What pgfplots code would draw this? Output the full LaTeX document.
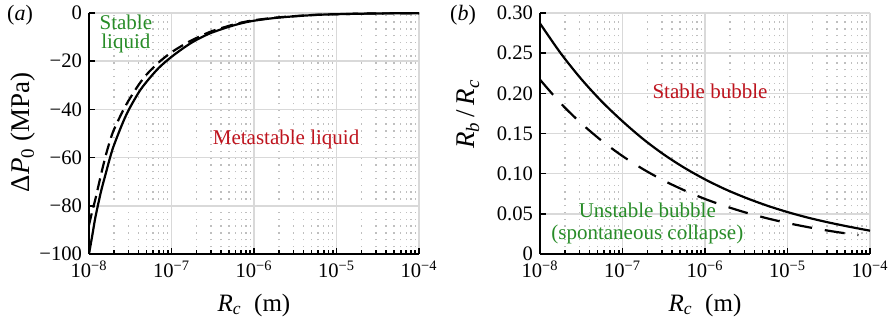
\documentclass[border=0pt]{standalone}
\usepackage{fontspec}
\setmainfont{Liberation Serif}
\usepackage{pgfplots}
\pgfplotsset{compat=1.18}
\definecolor{mygreen}{RGB}{40,140,40}
\definecolor{myred}{RGB}{190,20,30}
\begin{document}
\begin{tikzpicture}
\useasboundingbox (0,0) rectangle (446pt,162pt);
% panel (a)
\begin{axis}[
  scale only axis, width=165pt, height=120.5pt,
  at={(44.5pt,35pt)}, anchor=south west,
  xmode=log, xmin=1e-8, xmax=1e-4,
  axis x line*=bottom, axis y line*=left,
  axis line style={line width=1pt, black},
  xtick={1e-8,1e-7,1e-6,1e-5,1e-4},
  xticklabels={10\textsuperscript{−8},10\textsuperscript{−7},10\textsuperscript{−6},10\textsuperscript{−5},10\textsuperscript{−4}},
  grid=both,
  major grid style={gray!30, line width=0.8pt},
  minor grid style={gray!50, line width=0.7pt, dash pattern=on 0.7pt off 2.7pt},
  tick align=inside,
  major tick length=3pt, minor tick length=2pt,
  tick style={black, line width=0.8pt},
  tick label style={font=\fontsize{10.3}{12}\selectfont},
  xlabel={\textit{R\textsubscript{c}}\ \ (m)},
  xlabel style={font=\fontsize{12.5}{14}\selectfont, at={(axis description cs:0.5,0)}, anchor=center, yshift=-25.5pt},
  ymin=-100, ymax=0, ytick={-100,-80,-60,-40,-20,0},
  yticklabels={−100,−80,−60,−40,−20,0},
  ylabel={Δ\textit{P}\textsubscript{0} (MPa)},
  ylabel style={font=\fontsize{13.5}{15}\selectfont, at={(axis description cs:-0.2,0.506)}, anchor=center}]
\addplot[black, line width=1.1pt, smooth, tension=0.5] coordinates {
(1e-8,-100) (1.1e-8,-92) (1.2e-8,-84.5) (1.4e-8,-74) (1.6e-8,-66.5) (1.8e-8,-60)
(2e-8,-55) (2.5e-8,-46.5) (3e-8,-40.5) (4e-8,-33) (5e-8,-28.5) (7e-8,-22.8)
(1e-7,-18.2) (1.5e-7,-13.8) (2e-7,-11.2) (3e-7,-8.3) (5e-7,-5.7) (7e-7,-4.3)
(1e-6,-3.2) (2e-6,-1.9) (5e-6,-0.9) (1e-5,-0.5) (3e-5,-0.2) (1e-4,-0.08)};
\addplot[black, line width=1.1pt, smooth, tension=0.5, dash pattern=on 6pt off 3pt] coordinates {
(1e-8,-88) (1.1e-8,-82) (1.2e-8,-77) (1.4e-8,-67) (1.6e-8,-59) (1.8e-8,-53)
(2e-8,-48.5) (2.5e-8,-41.5) (3e-8,-36.5) (4e-8,-29.8) (5e-8,-25.5) (7e-8,-20.5)
(1e-7,-16.3) (1.5e-7,-12.6) (2e-7,-10.4) (3e-7,-7.7) (5e-7,-5.3) (7e-7,-4.0)
(1e-6,-3.0) (2e-6,-1.8) (5e-6,-0.85) (1e-5,-0.5) (3e-5,-0.2) (1e-4,-0.08)};
\node[mygreen, align=center, font=\fontsize{10.5}{9.5}\selectfont] at (axis cs:2.8e-8,-8.75) {Stable\\liquid};
\node[myred, font=\fontsize{10.5}{12}\selectfont] at (axis cs:2.45e-6,-52.5) {Metastable liquid};
\end{axis}
% panel (b)
\begin{axis}[
  scale only axis, width=165pt, height=120.5pt,
  at={(270pt,35pt)}, anchor=south west,
  xmode=log, xmin=1e-8, xmax=1e-4,
  axis x line*=bottom, axis y line*=left,
  axis line style={line width=1pt, black},
  xtick={1e-8,1e-7,1e-6,1e-5,1e-4},
  xticklabels={10\textsuperscript{−8},10\textsuperscript{−7},10\textsuperscript{−6},10\textsuperscript{−5},10\textsuperscript{−4}},
  grid=both,
  major grid style={gray!30, line width=0.8pt},
  minor grid style={gray!50, line width=0.7pt, dash pattern=on 0.7pt off 2.7pt},
  tick align=inside,
  major tick length=3pt, minor tick length=2pt,
  tick style={black, line width=0.8pt},
  tick label style={font=\fontsize{10.3}{12}\selectfont},
  xlabel={\textit{R\textsubscript{c}}\ \ (m)},
  xlabel style={font=\fontsize{12.5}{14}\selectfont, at={(axis description cs:0.5,0)}, anchor=center, yshift=-25.5pt},
  ymin=0, ymax=0.3, ytick={0,0.05,0.1,0.15,0.2,0.25,0.3},
  yticklabels={0,0.05,0.10,0.15,0.20,0.25,0.30},
  ylabel={\textit{R\textsubscript{b}}\,/\,\textit{R\textsubscript{c}}},
  ylabel style={font=\fontsize{13.5}{15}\selectfont, at={(axis description cs:-0.218,0.58)}, anchor=center}]
\addplot[black, line width=1.1pt, smooth, tension=0.5] coordinates {
(1e-8,0.287) (1.778e-8,0.250) (3.162e-8,0.2178) (5.623e-8,0.1897)
(1e-7,0.1652) (1.778e-7,0.1431) (3.162e-7,0.1239) (5.623e-7,0.1073)
(1e-6,0.0929) (1.778e-6,0.0804) (3.162e-6,0.0697) (5.623e-6,0.0603)
(1e-5,0.0522) (1.778e-5,0.0452) (3.162e-5,0.0392) (5.623e-5,0.0339) (1e-4,0.0290)};
\addplot[black, line width=1.1pt, smooth, tension=0.5, dash pattern=on 10pt off 6.5pt] coordinates {
(1e-8,0.217) (1.778e-8,0.1877) (3.162e-8,0.1626) (5.623e-8,0.1408)
(1e-7,0.1219) (1.778e-7,0.1056) (3.162e-7,0.0914) (5.623e-7,0.0792)
(1e-6,0.0685) (1.778e-6,0.0594) (3.162e-6,0.0514) (5.623e-6,0.0445)
(1e-5,0.0385) (1.778e-5,0.0334) (3.162e-5,0.0289) (5.623e-5,0.0250) (7.24e-5,0.0235)};
\node[myred, font=\fontsize{10.5}{12}\selectfont] at (axis cs:1.15e-6,0.203) {Stable bubble};
\node[mygreen, align=center, font=\fontsize{10.5}{11}\selectfont] at (axis cs:2e-7,0.0375) {Unstable bubble\\(spontaneous collapse)};
\end{axis}
\node[font=\fontsize{11}{12}\selectfont] at (10pt,154.5pt) {(\textit{a})};
\node[font=\fontsize{11}{12}\selectfont] at (231.5pt,154.5pt) {(\textit{b})};
\end{tikzpicture}
\end{document}
